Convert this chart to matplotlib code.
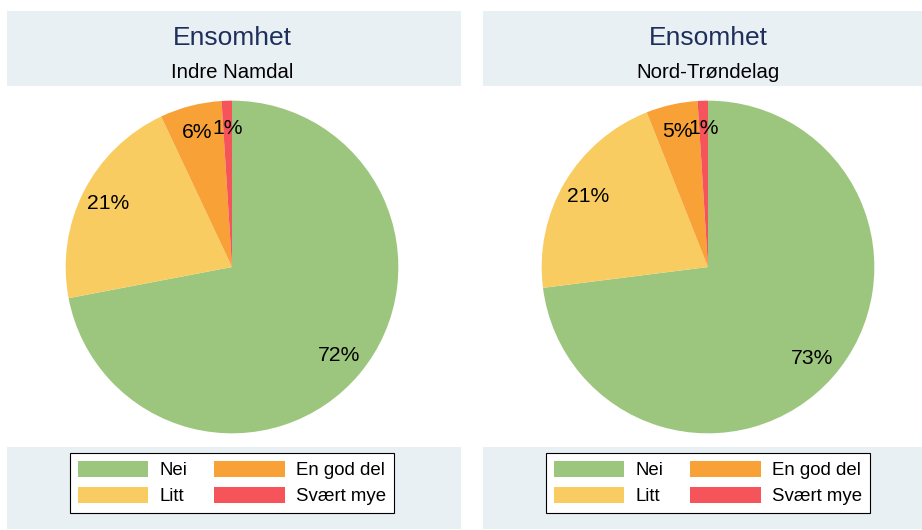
import matplotlib
matplotlib.use("Agg")
import matplotlib.pyplot as plt
from matplotlib.patches import Rectangle, Patch

plt.rcParams['font.family'] = ['Liberation Sans', 'DejaVu Sans']

categories = ["Nei", "Litt", "En god del", "Svært mye"]
colors = ["#9cc67e", "#f9cc62", "#f7a136", "#f5545a"]
title = "Ensomhet"
regions = ["Indre Namdal", "Nord-Trøndelag"]
values_indre = [72, 21, 6, 1]
values_nt = [73, 21, 5, 1]

W, H = 922, 530
fig = plt.figure(figsize=(W / 100, H / 100), dpi=100)

def fx(px):
    return px / W

def fy(py):
    return 1 - py / H

def band(x0, x1, y0, y1):
    fig.patches.append(Rectangle((fx(x0), fy(y1)), fx(x1 - x0), (y1 - y0) / H,
                                 transform=fig.transFigure, facecolor="#e8f0f3",
                                 edgecolor="none", zorder=0))

panels = [(7, 461, 232, values_indre, regions[0]),
          (483, 922, 708, values_nt, regions[1])]

for x0, x1, cx, vals, region in panels:
    # title band and legend band
    band(x0, x1, 11, 86)
    band(x0, x1, 447, 529)
    fig.text(fx(cx), fy(38), title, ha="center", va="center",
             fontsize=19, color="#1f2f5c")
    fig.text(fx(cx), fy(72), region, ha="center", va="center",
             fontsize=14.7, color="black")

    r = 168
    ax = fig.add_axes([fx(cx - r), fy(267 + r), 2 * r / W, 2 * r / H])
    wedges, texts, autotexts = ax.pie(
        vals, colors=colors, startangle=90, counterclock=False,
        autopct=lambda p: f"{p:.0f}%", pctdistance=0.835,
        wedgeprops=dict(linewidth=0), textprops=dict(fontsize=15.2))
    ax.set_xlim(-1.01, 1.01)
    ax.set_ylim(-1.01, 1.01)
    ax.set_aspect("equal")

    handles = [Patch(facecolor=c, edgecolor="none") for c in colors]
    leg = fig.legend(handles, categories, ncol=2, loc="center",
                     bbox_to_anchor=(fx(cx), fy(483)), fontsize=13.4,
                     handlelength=3.8, handleheight=1.0, handletextpad=0.6,
                     columnspacing=1.45, labelspacing=0.38, borderpad=0.42,
                     fancybox=False, framealpha=1, edgecolor="black")
    leg.get_frame().set_linewidth(0.8)

fig.savefig("out.png", dpi=100)
